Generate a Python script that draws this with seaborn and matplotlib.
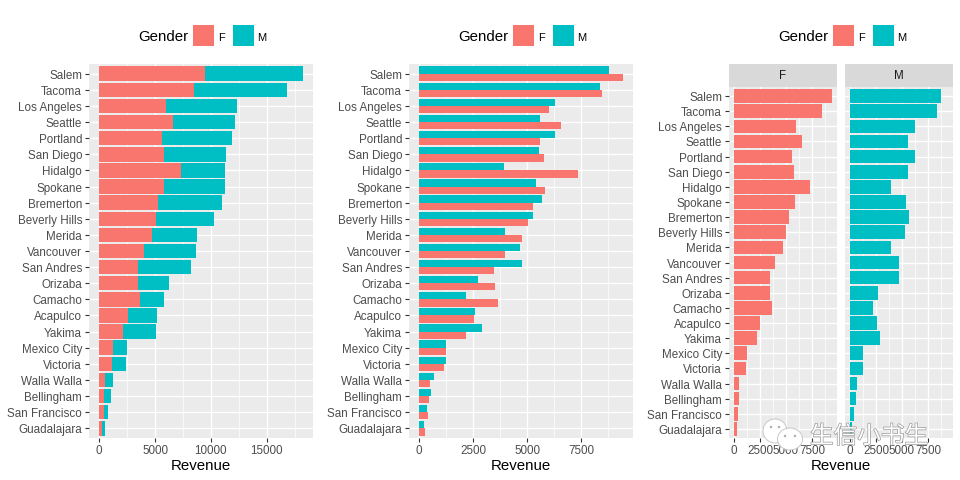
import matplotlib
matplotlib.use("Agg")
import matplotlib.pyplot as plt
import matplotlib.patheffects as pe
from matplotlib.patches import Patch, Ellipse
from matplotlib.ticker import MultipleLocator
from matplotlib.transforms import Affine2D
import pandas as pd
import seaborn as sns

sns.set_theme(style="white")
plt.rcParams['font.family'] = ['Liberation Sans', 'Noto Sans CJK SC', 'DejaVu Sans']

cities = ["Salem", "Tacoma", "Los Angeles", "Seattle", "Portland", "San Diego", "Hidalgo",
          "Spokane", "Bremerton", "Beverly Hills", "Merida", "Vancouver", "San Andres",
          "Orizaba", "Camacho", "Acapulco", "Yakima", "Mexico City", "Victoria",
          "Walla Walla", "Bellingham", "San Francisco", "Guadalajara"]
rev_f = [9444, 8472, 6018, 6574, 5602, 5787, 7361, 5833, 5278, 5046, 4769, 3981, 3472,
         3519, 3657, 2546, 2176, 1250, 1157, 509, 463, 417, 278]
rev_m = [8796, 8380, 6296, 5602, 6296, 5555, 3935, 5417, 5694, 5278, 3981, 4676, 4769,
         2731, 2176, 2593, 2917, 1250, 1250, 694, 556, 370, 231]
genders = ["F", "M"]
stack_ticks = [0, 5000, 10000, 15000]
dodge_ticks = [0, 2500, 5000, 7500]
watermark = "生信小书生"

COL_F = "#F8766D"
COL_M = "#00BFC4"
W, H = 960, 480
BAR = dict(saturation=1, width=0.9, errorbar=None, linewidth=0, order=cities)

long = pd.DataFrame({
    "City": cities * 2,
    "Gender": ["F"] * len(cities) + ["M"] * len(cities),
    "Revenue": rev_f + rev_m,
})
totals = pd.DataFrame({"City": cities, "Revenue": [f + m for f, m in zip(rev_f, rev_m)]})

fig = plt.figure(figsize=(W / 100, H / 100), dpi=100, facecolor="white")


def add_axes(x0, y0, x1, y1):
    return fig.add_axes([x0 / W, 1 - y1 / H, (x1 - x0) / W, (y1 - y0) / H])


def style(ax, ticks, xmax, left=True):
    ax.set_facecolor("#EBEBEB")
    for s in ax.spines.values():
        s.set_visible(False)
    ax.set_axisbelow(True)
    ax.set_xlim(-0.05 * xmax, 1.05 * xmax)
    ax.set_ylim(len(cities) - 0.4, -0.6)
    ax.set_xticks(ticks)
    ax.xaxis.set_minor_locator(MultipleLocator((ticks[1] - ticks[0]) / 2))
    ax.grid(True, which="major", color="white", lw=1.0)
    ax.grid(True, which="minor", axis="x", color="white", lw=0.5)
    ax.tick_params(axis="x", which="minor", length=0)
    ax.tick_params(axis="both", which="major", length=3, width=0.8, color="#333333",
                   labelcolor="#4D4D4D", labelsize=8.4, pad=2, bottom=True, left=left)
    ax.set_ylabel("")
    ax.set_xlabel("")
    if not left:
        ax.tick_params(axis="y", labelleft=False)
    for lab in ax.get_yticklabels():
        lab.set_verticalalignment("center")
        lab.set_transform(lab.get_transform() + Affine2D().translate(0, -2))


# Panel 1: stacked
ax1 = add_axes(89, 64, 313, 438)
sns.barplot(data=totals, x="Revenue", y="City", color=COL_M, ax=ax1, **BAR)
sns.barplot(data=long[long.Gender == "F"], x="Revenue", y="City", color=COL_F, ax=ax1, **BAR)
style(ax1, stack_ticks, max(totals.Revenue))

# Panel 2: dodged
ax2 = add_axes(409, 64, 633, 438)
sns.barplot(data=long, x="Revenue", y="City", hue="Gender", hue_order=["M", "F"],
            palette={"F": COL_F, "M": COL_M}, gap=0, legend=False, ax=ax2, **BAR)
style(ax2, dodge_ticks, max(rev_f))

# Panel 3: facets
ax3 = add_axes(729, 87, 837, 438)
ax4 = add_axes(845, 87, 953, 438)
for ax, g, col in [(ax3, "F", COL_F), (ax4, "M", COL_M)]:
    sns.barplot(data=long[long.Gender == g], x="Revenue", y="City", color=col, ax=ax, **BAR)
    style(ax, dodge_ticks, max(rev_f), left=(g == "F"))
    strip = add_axes(ax.get_position().x0 * W, 64, ax.get_position().x1 * W, 87)
    strip.set_facecolor("#D9D9D9")
    strip.set_xticks([]); strip.set_yticks([])
    for s in strip.spines.values():
        s.set_visible(False)
    strip.text(0.5, 0.47, g, ha="center", va="center", fontsize=8.4, color="#1A1A1A",
               transform=strip.transAxes)

# x titles
for cx in (201, 521, 841):
    fig.text(cx / W, 1 - 465.5 / H, "Revenue", ha="center", va="center", fontsize=10.8, color="black")

# Legends
handles = [Patch(color=COL_F, lw=0), Patch(color=COL_M, lw=0)]
for dx in (0, 320, 640):
    fig.text((138 + dx) / W, 1 - 37 / H, "Gender", ha="left", va="center", fontsize=10.8, color="black")
    leg = fig.legend(handles, genders, ncols=2, frameon=False, fontsize=8,
                     handlelength=1.9, handleheight=2.53, handletextpad=0.32, columnspacing=0.75,
                     borderpad=0, borderaxespad=0, labelcolor="black",
                     loc="center left", bbox_to_anchor=((193 + dx) / W, 1 - 35.5 / H))
    for t in leg.get_texts():
        t.set_y(-2)

# Watermark
pix = Affine2D().scale(1, -1).translate(0, H)
for cx, cy, rx, ry in [(775, 431, 12, 12), (790, 439, 12.5, 11)]:
    fig.add_artist(Ellipse((cx, cy), 2 * rx, 2 * ry, transform=pix, facecolor="white",
                           edgecolor="#C8C8C8", lw=0.7, zorder=10))
for cx, cy in [(771, 427), (779, 427), (785, 436), (795, 436)]:
    fig.add_artist(Ellipse((cx, cy), 2.5, 2.5, transform=pix, facecolor="#B0B0B0", lw=0, zorder=11))
halo = [pe.withStroke(linewidth=1.0, foreground="#9A9A9A")]
fig.text(810 / W, 1 - 437 / H, watermark, ha="left", va="center", fontsize=17, color="white",
         path_effects=halo, zorder=10)

fig.savefig("out.png", dpi=100)
